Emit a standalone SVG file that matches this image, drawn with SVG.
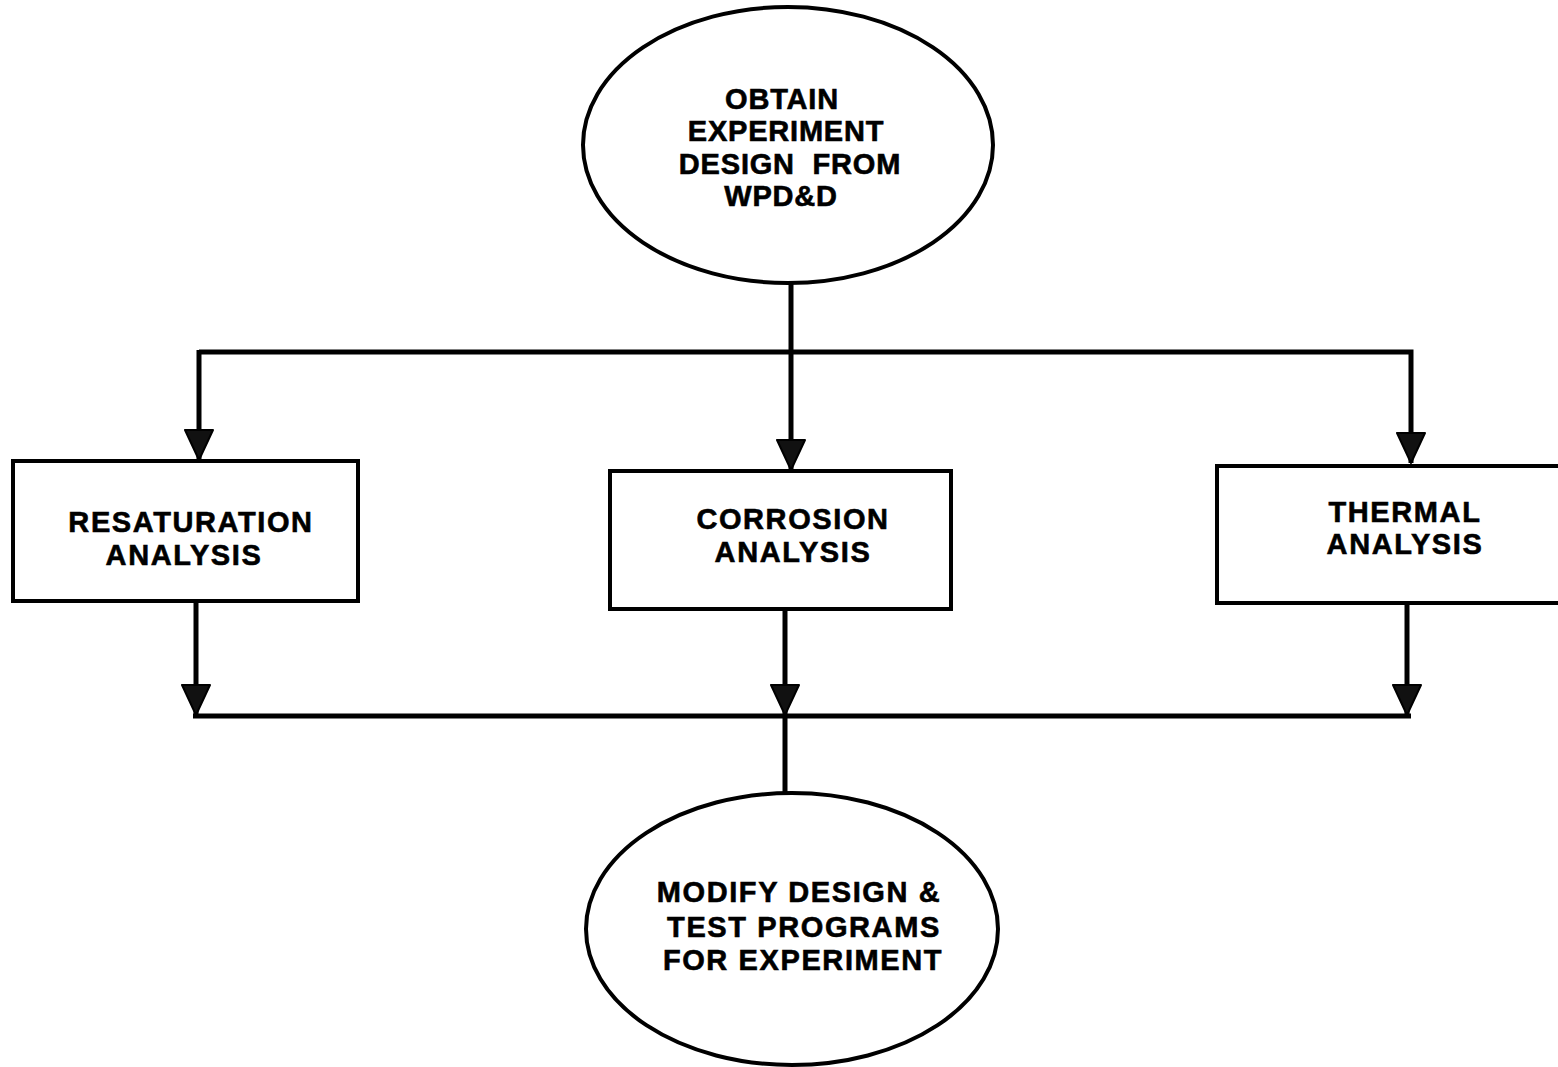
<svg xmlns="http://www.w3.org/2000/svg" width="1558" height="1067" viewBox="0 0 1558 1067">
<style>
.shape{fill:#fff;stroke:#000;stroke-width:4}
.line{fill:none;stroke:#000;stroke-width:5;stroke-linejoin:miter}
.lbl{font-family:"Liberation Sans",Arial,sans-serif;font-weight:bold;font-size:29px;letter-spacing:1.6px;text-anchor:middle;fill:#000;stroke:#000;stroke-width:0.6}
.tight{letter-spacing:0.8px}
</style>
<defs>
<marker id="arr" markerUnits="userSpaceOnUse" viewBox="0 0 32 30" refX="31" refY="15" markerWidth="32" markerHeight="30" orient="auto">
<path d="M1,1 L31,15 L1,29 Z" fill="#111" stroke="#000" stroke-width="2" stroke-linejoin="round"/>
</marker>
</defs>
<rect width="1558" height="1067" fill="#fff"/>
<g id="connectors">
<line class="line" x1="791" y1="283" x2="791" y2="352"/>
<polyline class="line" points="199,352 1411,352 1411,463" marker-end="url(#arr)"/>
<line class="line" x1="199" y1="350" x2="199" y2="460" marker-end="url(#arr)"/>
<line class="line" x1="791" y1="352" x2="791" y2="470" marker-end="url(#arr)"/>
<line class="line" x1="196" y1="601" x2="196" y2="715" marker-end="url(#arr)"/>
<line class="line" x1="785" y1="609" x2="785" y2="715" marker-end="url(#arr)"/>
<line class="line" x1="1407" y1="603" x2="1407" y2="715" marker-end="url(#arr)"/>
<line class="line" x1="193" y1="716" x2="1411" y2="716"/>
<line class="line" x1="785" y1="716" x2="785" y2="793"/>
</g>
<g id="obtain">
<ellipse class="shape" cx="788" cy="145" rx="205" ry="138"/>
<text class="lbl tight" x="782" y="109">OBTAIN</text>
<text class="lbl tight" x="786" y="141">EXPERIMENT</text>
<text class="lbl tight" x="790" y="174" xml:space="preserve">DESIGN  FROM</text>
<text class="lbl tight" x="781" y="206">WPD&amp;D</text>
</g>
<g id="resaturation">
<rect class="shape" x="13" y="461" width="345" height="140"/>
<text class="lbl" x="191" y="532">RESATURATION</text>
<text class="lbl" x="184" y="565">ANALYSIS</text>
</g>
<g id="corrosion">
<rect class="shape" x="610" y="471" width="341" height="138"/>
<text class="lbl" x="793" y="529">CORROSION</text>
<text class="lbl" x="793" y="562">ANALYSIS</text>
</g>
<g id="thermal">
<rect class="shape" x="1217" y="466" width="345" height="137"/>
<text class="lbl" x="1405" y="522">THERMAL</text>
<text class="lbl" x="1405" y="554">ANALYSIS</text>
</g>
<g id="modify">
<ellipse class="shape" cx="792" cy="929" rx="206" ry="136"/>
<text class="lbl" x="799" y="902">MODIFY DESIGN &amp;</text>
<text class="lbl" x="804" y="937">TEST PROGRAMS</text>
<text class="lbl" x="803" y="970">FOR EXPERIMENT</text>
</g>
</svg>
